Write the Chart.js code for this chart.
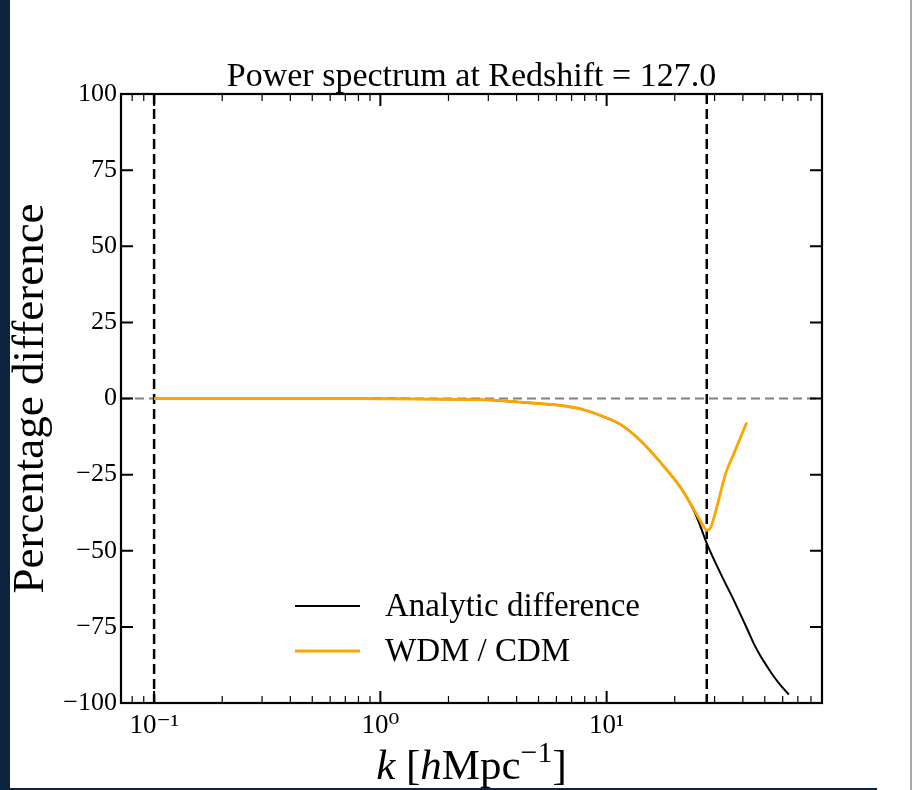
<!DOCTYPE html>
<html>
<head>
<meta charset="utf-8">
<script src="https://cdn.jsdelivr.net/npm/chart.js@4.4.1/dist/chart.umd.min.js"></script>
<style>
  html, body { margin: 0; padding: 0; background: #fff; }
  #wrap { position: relative; width: 913px; height: 790px; overflow: hidden; }
  #sidebar { position: absolute; left: 0; top: 0; width: 10px; height: 790px; background: #0b2440; }
  #edge { position: absolute; left: 910px; top: 0; width: 2px; height: 790px; background: #aaa; }
  #bottom { position: absolute; left: 0; top: 788px; width: 877px; height: 2px; background: #0b2440; }
  canvas { position: absolute; left: 0; top: 0; }
</style>
</head>
<body>
<div id="wrap">
  <canvas id="chartCanvas" width="913" height="790"></canvas>
  <div id="sidebar"></div>
  <div id="edge"></div>
  <div id="bottom"></div>
</div>
<script>
// values
const kAnalytic = [0.1, 0.2, 0.5, 1, 2, 2.77, 4.16, 6.26, 7.67, 9.4, 11.5, 14.1, 17.3, 21.2, 24.3, 26.1, 27.7, 31.9, 36.5, 42.1, 44.7, 48.0, 51.5, 54.8, 58.9, 63.9];
const analyticDiff = [0, 0, 0, -0.1, -0.25, -0.4, -1.2, -2.3, -3.4, -5.6, -8.5, -13.8, -21, -29.2, -36.8, -42.4, -47.6, -57.5, -66.3, -76.2, -80.5, -84.7, -88.3, -91.3, -94.3, -97.2];

const kWdm = [0.1, 0.2, 0.5, 1, 2, 2.77, 4.16, 6.26, 7.67, 9.4, 11.5, 14.1, 17.3, 21.2, 24.3, 26.1, 27.7, 28.8, 30.4, 33.6, 36.5, 41.6];
const wdmRatio = [0, 0, 0, -0.1, -0.25, -0.4, -1.2, -2.3, -3.4, -5.6, -8.5, -13.8, -21, -29.2, -36.4, -40.5, -43.3, -42.4, -36.8, -24.6, -18.1, -7.9];

const seriesLabels = ["Analytic difference", "WDM / CDM"];
const titleText = 'Power spectrum at Redshift = 127.0';
const kCuts = [0.1, 27.7];      // vertical dashed lines
const zeroLine = 0;

const xMajor = [0.1, 1, 10];
const xMajorLabels = ["10\u207B\u00B9", "10\u2070", "10\u00B9"];
const yTicks = [-100, -75, -50, -25, 0, 25, 50, 75, 100];

const serif = "'Liberation Serif', 'DejaVu Serif', serif";

let xTickValues = [];
[0.01, 0.1, 1, 10].forEach(dec => {
    for (let m = 1; m <= 9; m++) xTickValues.push(+(m * dec).toPrecision(3));
});

const refLines = {
    id: 'refLines',
    beforeDatasetsDraw(chart) {
        const {ctx, chartArea: a, scales: {x, y}} = chart;
        ctx.save();
        // zero line
        ctx.strokeStyle = '#808080';
        ctx.lineWidth = 2;
        ctx.setLineDash([9, 5]);
        let py = y.getPixelForValue(zeroLine);
        ctx.beginPath();
        ctx.moveTo(a.left, py);
        ctx.lineTo(a.right, py);
        ctx.stroke();
        // k cuts
        ctx.strokeStyle = '#000';
        ctx.lineWidth = 2.5;
        ctx.setLineDash([10, 5]);
        kCuts.forEach(k => {
            let px = x.getPixelForValue(k);
            ctx.beginPath();
            ctx.moveTo(px, a.top);
            ctx.lineTo(px, a.bottom);
            ctx.stroke();
        });
        ctx.restore();
    },
    afterDraw(chart) {
        const {ctx, chartArea: a, scales: {x, y}} = chart;
        ctx.save();
        ctx.strokeStyle = '#000';

        // inward ticks, all four sides
        x.ticks.forEach(t => {
            let px = x.getPixelForValue(t.value);
            if (px < a.left || px > a.right) return;
            let major = xMajor.includes(t.value);
            let len = major ? 12 : 7;
            ctx.lineWidth = major ? 2 : 1.2;
            ctx.beginPath();
            ctx.moveTo(px, a.bottom); ctx.lineTo(px, a.bottom - len);
            ctx.moveTo(px, a.top); ctx.lineTo(px, a.top + len);
            ctx.stroke();
        });
        ctx.lineWidth = 2;
        y.ticks.forEach(t => {
            let py = y.getPixelForValue(t.value);
            ctx.beginPath();
            ctx.moveTo(a.left, py); ctx.lineTo(a.left + 12, py);
            ctx.moveTo(a.right, py); ctx.lineTo(a.right - 12, py);
            ctx.stroke();
        });

        // frame
        ctx.lineWidth = 2.2;
        ctx.strokeRect(a.left, a.top, a.right - a.left, a.bottom - a.top);

        ctx.fillStyle = '#000';

        // title, centred over the plot area
        ctx.font = '34px ' + serif;
        ctx.textAlign = 'center';
        ctx.textBaseline = 'alphabetic';
        ctx.fillText(titleText, (a.left + a.right) / 2, 86);
        ctx.textAlign = 'left';

        // legend
        ctx.font = '33px ' + serif;
        ctx.textBaseline = 'middle';
        chart.data.datasets.forEach((ds, i) => {
            let ly = a.top + 512 + i * 45;
            let lx = a.left + 174;
            ctx.strokeStyle = ds.borderColor;
            ctx.lineWidth = ds.borderWidth;
            ctx.beginPath();
            ctx.moveTo(lx, ly); ctx.lineTo(lx + 65, ly);
            ctx.stroke();
            ctx.fillText(ds.label, lx + 90, ly + 1);
        });

        // x axis label: k [hMpc^-1]
        const parts = [
            {t: 'k', f: 'italic 43px ' + serif, dy: 0},
            {t: ' [', f: '43px ' + serif, dy: 0},
            {t: 'h', f: 'italic 43px ' + serif, dy: 0},
            {t: 'Mpc', f: '43px ' + serif, dy: 0},
            {t: '\u22121', f: '30px ' + serif, dy: -17},
            {t: ']', f: '43px ' + serif, dy: 0}
        ];
        let total = 0;
        parts.forEach(p => { ctx.font = p.f; p.w = ctx.measureText(p.t).width; total += p.w; });
        let cx = (a.left + a.right) / 2 - total / 2;
        ctx.textBaseline = 'alphabetic';
        parts.forEach(p => {
            ctx.font = p.f;
            ctx.fillText(p.t, cx, 779 + p.dy);
            cx += p.w;
        });
        ctx.restore();
    }
};

const ctx = document.querySelector('#chartCanvas');

const graphPk = new Chart(ctx, {
    type: 'line',
    data: {
        datasets: [
            {
                label: seriesLabels[0],
                data: kAnalytic.map((k, i) => ({x: k, y: analyticDiff[i]})),
                borderColor: '#000000',
                borderWidth: 2,
                order: 1
            },
            {
                label: seriesLabels[1],
                data: kWdm.map((k, i) => ({x: k, y: wdmRatio[i]})),
                borderColor: '#FFA500',
                borderWidth: 2.8,
                order: 0
            }
        ]
    },
    plugins: [refLines],
    options: {
        responsive: false,
        animation: false,
        devicePixelRatio: 1,
        elements: {
            point: { radius: 0 },
            line: { cubicInterpolationMode: 'monotone' }
        },
        layout: { padding: { left: 0, right: 91, top: 94, bottom: 0 } },
        plugins: {
            legend: { display: false },
            tooltip: { enabled: false },
            title: { display: false }
        },
        scales: {
            x: {
                type: 'logarithmic',
                min: 0.0714,
                max: 89.5,
                afterBuildTicks: (scale) => {
                    scale.ticks = xTickValues
                        .filter(v => v >= scale.min && v <= scale.max)
                        .map(v => ({value: v, major: xMajor.includes(v)}));
                },
                afterFit: (scale) => { scale.height = 87; },
                grid: { display: false, drawTicks: false },
                border: { display: false },
                ticks: {
                    autoSkip: false,
                    maxRotation: 0,
                    padding: 7,
                    color: '#000',
                    font: { family: serif, size: 27 },
                    callback: (value) => {
                        let idx = xMajor.indexOf(value);
                        return idx >= 0 ? xMajorLabels[idx] : '';
                    }
                }
            },
            y: {
                min: -100,
                max: 100,
                afterBuildTicks: (scale) => {
                    scale.ticks = yTicks.map(v => ({value: v}));
                },
                afterFit: (scale) => { scale.width = 121; },
                grid: { display: false, drawTicks: false },
                border: { display: false },
                title: {
                    display: true,
                    text: 'Percentage difference',
                    color: '#000',
                    font: { family: serif, size: 45, lineHeight: 1 },
                    padding: { top: 9, bottom: 0 }
                },
                ticks: {
                    padding: 4,
                    color: '#000',
                    font: { family: serif, size: 26 },
                    callback: (value) => value < 0 ? '\u2212' + Math.abs(value) : '' + value
                }
            }
        }
    }
});
</script>
</body>
</html>
